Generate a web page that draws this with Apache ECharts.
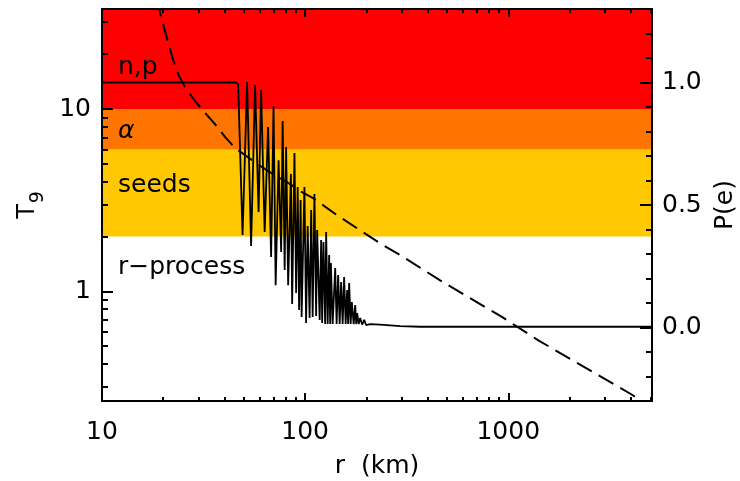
<!DOCTYPE html>
<html><head><meta charset="utf-8">
<script src="https://cdn.jsdelivr.net/npm/echarts@6/dist/echarts.min.js"></script>
<style>html,body{margin:0;padding:0;background:#fff}#c{width:740px;height:481px}</style>
</head><body><div id="c"></div>
<script>
// ---- axis ranges and ticks ----
const xRange = [10, 5100];
const tRange = [0.25, 35.4];
const pRange = [-0.3, 1.3];
const xMajorTicks = [10, 100, 1000];
const xMinorTicks = [20,30,40,50,60,70,80,90,200,300,400,500,600,700,800,900,2000,3000,4000,5000];
const tMajorTicks = [1, 10];
const tMinorTicks = [0.3,0.4,0.5,0.6,0.7,0.8,0.9,2,3,4,5,6,7,8,9,20,30];
const pMajorTicks = [0, 0.5, 1.0];
const pMinorTicks = [-0.2,-0.1,0.1,0.2,0.3,0.4,0.6,0.7,0.8,0.9,1.1,1.2];
// ---- regime bands (T9 edges) ----
const bandLow = [2, 6, 10];
const bandHigh = [6, 10, 35.4];
const bandColors = ['#ffc800', '#ff7500', '#ff0000'];
const regimeLabels = ['n,p', 'α', 'seeds', 'r−process'];
// ---- dashed curve: T9 vs r ----
const rDashed = [18.56, 19.16, 20.2, 21.2, 22.4, 23.8, 25.9, 28.7, 32.2, 36.0, 40.4, 45.2, 50.6, 57.4, 65.7, 75.3, 84.4, 94.5, 109.5, 143.2, 238.8, 293.8, 462, 931, 1406, 3990, 4730];
const tDashed = [39.7, 35.0, 27.9, 23.1, 18.6, 15.4, 12.9, 11.07, 9.51, 8.27, 7.02, 6.11, 5.59, 5.05, 4.56, 4.18, 3.87, 3.54, 3.24, 2.62, 1.806, 1.58, 1.148, 0.723, 0.538, 0.274, 0.243];
// ---- solid curve: P(e) vs r ----
const rSolid = [10, 45.7, 46.8, 49.2, 51.8, 54.2, 56.7, 59.0, 60.7, 63.2, 65.7, 68.0, 69.9, 71.6, 74.0, 76.2, 77.5, 79.3, 80.6, 82.5, 85.1, 86.3, 88.6, 90.3, 91.9, 93.4, 95.0, 96.1, 99.2, 101.1, 102.9, 105.2, 107.1, 108.9, 111.1, 113.3, 114.6, 117.9, 119.9, 121.3, 123.1, 125.5, 126.9, 129.1, 131.3, 132.8, 133.9, 136.6, 140.6, 142.9, 145.4, 147.9, 150.4, 153.0, 155.6, 158.3, 161.0, 162.8, 164.7, 167.5, 169.8, 173.4, 176.4, 178.4, 180.4, 183.5, 186.6, 190.9, 195.3, 199.7, 209.0, 234.1, 293.8, 368.6, 5100];
const pSolid = [1.0, 1.0, 0.994, 0.378, 1.002, 0.333, 0.990, 0.471, 0.969, 0.390, 0.818, 0.288, 0.904, 0.173, 0.683, 0.308, 0.843, 0.235, 0.737, 0.173, 0.627, 0.096, 0.712, 0.141, 0.573, 0.071, 0.520, 0.043, 0.573, 0.018, 0.414, 0.039, 0.480, 0.043, 0.545, 0.047, 0.398, 0.031, 0.357, 0.018, 0.349, 0.014, 0.390, 0.014, 0.296, 0.014, 0.263, 0.014, 0.243, 0.014, 0.214, 0.014, 0.186, 0.014, 0.206, 0.014, 0.153, 0.014, 0.182, 0.014, 0.104, 0.014, 0.092, 0.014, 0.059, 0.014, 0.039, 0.012, 0.031, 0.010, 0.014, 0.012, 0.006, 0.003, 0.003];

const FONT = 'DejaVu Sans';
const FW = 'normal';
const chart = echarts.init(document.getElementById('c'), null, {renderer: 'canvas'});
const zip = (a, b) => a.map((v, i) => [v, b[i]]);
const lineC = {show: true, onZero: false, lineStyle: {color: '#000', width: 2}};
const txt = {color: '#000', fontFamily: FONT, fontSize: 25, fontWeight: FW};
function xAxis(pos, ticks, len, labels) {
  return {type: 'log', logBase: 10, min: xRange[0], max: xRange[1], position: pos, z: 10,
    axisLine: lineC, splitLine: {show: false},
    axisTick: {show: true, inside: true, length: len, customValues: ticks, lineStyle: {color: '#000', width: 2}},
    axisLabel: labels ? Object.assign({show: true, customValues: ticks, margin: 19,
      formatter: v => String(Math.round(v))}, txt) : {show: false}};
}
function tAxis(ticks, len, labels) {
  return {type: 'log', logBase: 10, min: tRange[0], max: tRange[1], position: 'left', z: 10,
    axisLine: lineC, splitLine: {show: false},
    axisTick: {show: true, inside: true, length: len, customValues: ticks, lineStyle: {color: '#000', width: 2}},
    axisLabel: labels ? Object.assign({show: true, customValues: ticks, margin: 11,
      formatter: v => String(Math.round(v))}, txt) : {show: false}};
}
function pAxis(ticks, len, labels) {
  return {type: 'value', min: pRange[0], max: pRange[1], position: 'right', z: 10,
    axisLine: lineC, splitLine: {show: false},
    axisTick: {show: true, inside: true, length: len, customValues: ticks, lineStyle: {color: '#000', width: 2}},
    axisLabel: labels ? Object.assign({show: true, customValues: ticks, margin: 10,
      formatter: v => v.toFixed(1)}, txt) : {show: false}};
}
const xa0 = xAxis('bottom', xMajorTicks, 8, true);
xa0.name = 'r  (km)'; xa0.nameLocation = 'middle'; xa0.nameGap = 53;
xa0.nameTextStyle = Object.assign({}, txt);
const ya0 = tAxis(tMajorTicks, 11, true);
ya0.name = '{t|T}{s|9}'; ya0.nameLocation = 'middle'; ya0.nameRotate = 90; ya0.nameGap = 54;
ya0.nameTextStyle = {color: '#000', rich: {
  t: {fontFamily: FONT, fontWeight: FW, fontSize: 24, color: '#000', verticalAlign: 'top'},
  s: {fontFamily: FONT, fontWeight: FW, fontSize: 19, color: '#000', verticalAlign: 'top', padding: [13, 0, 0, 1]}}};
const ya2 = pAxis(pMajorTicks, 12, true);
ya2.name = 'P(e)'; ya2.nameLocation = 'middle'; ya2.nameRotate = 90; ya2.nameGap = 58;
ya2.nameTextStyle = Object.assign({}, txt);

const bandAreas = bandLow.map((lo, i) => [
  {coord: [xRange[0], lo], itemStyle: {color: bandColors[i], opacity: 1}},
  {coord: [xRange[1], bandHigh[i]]}]);

const lbl = (i, y, style) => ({type: 'text', x: 118, y: y, z: 20,
  style: {text: regimeLabels[i], font: (style || '') + ' 25px "DejaVu Sans"', fill: '#000', verticalAlign: 'middle'}});

const option = {
  animation: false,
  backgroundColor: '#fff',
  grid: {left: 102, right: 88, top: 9, bottom: 80, containLabel: false, outerBoundsMode: 'none'},
  xAxis: [xa0, xAxis('bottom', xMinorTicks, 4, false), xAxis('top', xMajorTicks, 8, false), xAxis('top', xMinorTicks, 4, false)],
  yAxis: [ya0, tAxis(tMinorTicks, 6, false), ya2, pAxis(pMinorTicks, 6, false)],
  series: [
    {type: 'line', name: 'T9', xAxisIndex: 0, yAxisIndex: 0, data: zip(rDashed, tDashed), z: 5,
     symbol: 'none', clip: true, lineStyle: {color: '#000', width: 2, type: [17, 8]},
     markArea: {silent: true, z: 1, itemStyle: {opacity: 1}, label: {show: false}, data: bandAreas}},
    {type: 'line', name: 'P(e)', xAxisIndex: 0, yAxisIndex: 2, data: zip(rSolid, pSolid), z: 5,
     symbol: 'none', clip: true, lineStyle: {color: '#000', width: 1.8}}
  ],
  graphic: [lbl(0, 67), lbl(1, 131, 'italic'), lbl(2, 185), lbl(3, 267)]
};
chart.setOption(option);
</script></body></html>
